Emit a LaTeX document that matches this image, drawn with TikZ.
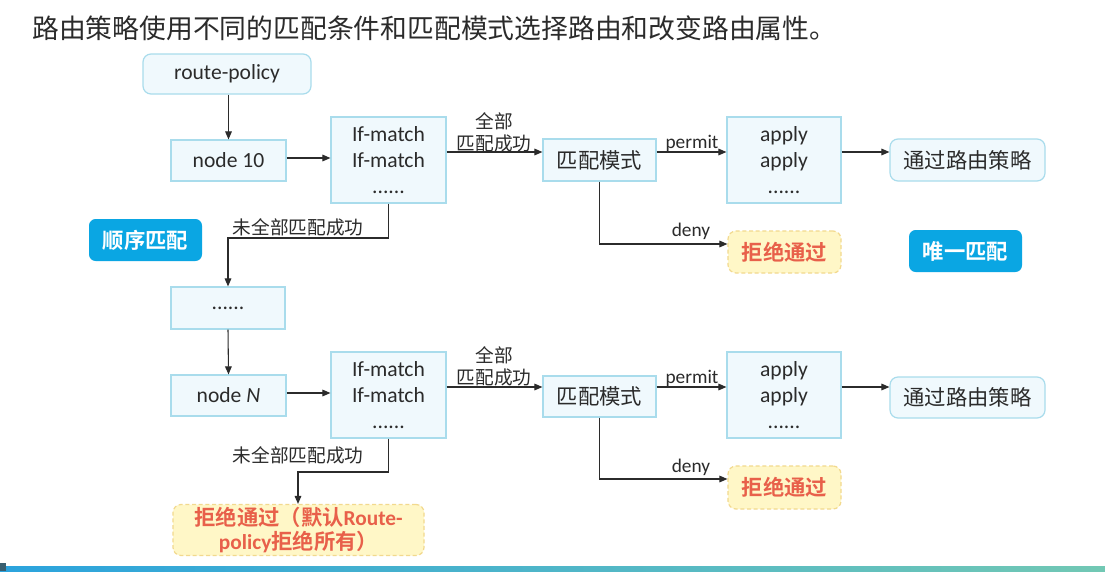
\documentclass[tikz,border=0pt]{standalone}
\usepackage{fontspec}
\setmainfont{Carlito}
\newfontfamily\cjk{Noto Sans CJK SC}[BoldFont={Noto Sans CJK SC Bold}]
\usetikzlibrary{arrows.meta}
\definecolor{boxfill}{HTML}{F0F9FD}
\definecolor{boxline}{HTML}{A9DCEC}
\definecolor{badge}{HTML}{0AA6E3}
\definecolor{rejfill}{HTML}{FFF7C7}
\definecolor{rejline}{HTML}{F2D98E}
\definecolor{rejtext}{HTML}{E8604A}
\definecolor{ink}{HTML}{2B2B2B}
\definecolor{barA}{HTML}{2BA3DD}
\definecolor{barB}{HTML}{72C8B4}
\definecolor{barDark}{HTML}{3A5F70}
\begin{document}
\begin{tikzpicture}[x=0.75pt,y=-0.75pt,
  sz/.style 2 args={minimum width=#1*0.75pt, minimum height=#2*0.75pt},
  box/.style={draw=boxline, fill=boxfill, line width=0.9pt, inner sep=0pt, text=ink,
    font=\fontsize{16.2}{19.5}\selectfont, align=center},
  cbox/.style={box, font=\cjk\fontsize{16}{19.5}\selectfont},
  rbox/.style={box, rounded corners=6pt},
  badgebox/.style={fill=badge, rounded corners=5pt, text=white,
    font=\cjk\bfseries\fontsize{16}{19}\selectfont, inner sep=0pt},
  rejbox/.style={draw=rejline, fill=rejfill, dash pattern=on 3pt off 2pt,
    rounded corners=6pt, line width=0.9pt, text=rejtext,
    font=\cjk\bfseries\fontsize{16}{18}\selectfont, inner sep=0pt, align=center},
  conn/.style={draw=ink, line width=0.8pt, -{Triangle[length=6pt,width=5pt]}},
  lab/.style={text=ink, inner sep=0pt, align=center, font=\cjk\fontsize{14}{16.5}\selectfont},
  elab/.style={text=ink, inner sep=0pt, font=\fontsize{14.5}{16}\selectfont}
]
\useasboundingbox (0,0) rectangle (1105,571);
\fill[white] (0,0) rectangle (1105,571);

% title
\node[anchor=west, inner sep=0pt, text=ink, font=\cjk\fontsize{20.1}{24}\selectfont] (title) at (32,28)
  {路由策略使用不同的匹配条件和匹配模式选择路由和改变路由属性。};

% row 1
\node[rbox, sz={168}{40}] (rp) at (227,74) {route-policy};
\node[box, sz={115}{41}] (n10) at (228.5,160.5) {node 10};
\node[box, sz={115}{86}] (if1) at (388.5,160) {If-match\\If-match\\......};
\node[cbox, sz={113}{42}] (mm1) at (599.5,160) {匹配模式};
\node[box, sz={114}{86}] (ap1) at (784,160) {apply\\apply\\......};
\node[rbox, cbox, rounded corners=6pt, sz={155}{42}] (pass1) at (967.5,160) {通过路由策略};
\node[rejbox, sz={113}{42}] (rej1) at (784.5,252) {拒绝通过};

\node[badgebox, sz={113}{42}] (seq) at (145.5,240) {顺序匹配};
\node[badgebox, sz={113}{42}] (uniq) at (965.5,251) {唯一匹配};

\node[box, sz={114}{42}] (dots) at (228,308) {......};

% row 2
\node[box, sz={115}{41}] (nN) at (228.5,395.5) {node \textit{N}};
\node[box, sz={115}{86}] (if2) at (388.5,395) {If-match\\If-match\\......};
\node[cbox, sz={113}{41}] (mm2) at (599.5,396.5) {匹配模式};
\node[box, sz={114}{86}] (ap2) at (784,395) {apply\\apply\\......};
\node[rbox, cbox, rounded corners=6pt, sz={155}{41}] (pass2) at (967.5,397.5) {通过路由策略};
\node[rejbox, sz={113}{43}] (rej2) at (784.5,487.5) {拒绝通过};
\node[rejbox, sz={251}{51}, font=\bfseries\fontsize{16}{18}\selectfont] (rej3) at (298.5,530)
  {{\cjk 拒绝通过（默认}Route-\\policy{\cjk 拒绝所有）}};

% helper levels
\coordinate (a1) at (0,158);
\coordinate (b1) at (0,152);
\coordinate (d1) at (0,244);
\coordinate (u1) at (0,238);
\coordinate (a2) at (0,393);
\coordinate (b2) at (0,387);
\coordinate (d2) at (0,479);
\coordinate (u2) at (0,472);
\coordinate (t3) at (298,0);

% connectors row 1
\draw[conn] (rp.south -| n10.north) -- (n10.north);
\draw[conn] (n10.east |- a1) -- (if1.west |- a1);
\draw[conn] (if1.east |- b1) -- (mm1.west |- b1);
\draw[conn] (mm1.east |- b1) -- (ap1.west |- b1);
\draw[conn] (ap1.east |- b1) -- (pass1.west |- b1);
\draw[conn] (mm1.south) |- (rej1.west |- d1);
\draw[conn] (if1.south) |- (dots.north |- u1) -- (dots.north);
\draw[conn] (dots.south) -- (nN.north);

% connectors row 2
\draw[conn] (nN.east |- a2) -- (if2.west |- a2);
\draw[conn] (if2.east |- b2) -- (mm2.west |- b2);
\draw[conn] (mm2.east |- b2) -- (ap2.west |- b2);
\draw[conn] (ap2.east |- b2) -- (pass2.west |- b2);
\draw[conn] (mm2.south) |- (rej2.west |- d2);
\draw[conn] (if2.south) |- (t3 |- u2) -- (t3 |- rej3.north);

% labels
\node[lab] (l1) at (494,132) {全部\\匹配成功};
\node[elab] (p1) at (692,143) {permit};
\node[elab] (dn1) at (691,231) {deny};
\node[lab] (nm1) at (298,227) {未全部匹配成功};
\node[lab] (l2) at (494,366) {全部\\匹配成功};
\node[elab] (p2) at (692,378) {permit};
\node[elab] (dn2) at (691,467) {deny};
\node[lab] (nm2) at (298,455) {未全部匹配成功};

% bottom bar
\shade[left color=barA, right color=barB] (0,566) rectangle (1105,571);
\fill[barDark] (0,563) rectangle (6,571);
\end{tikzpicture}
\end{document}
